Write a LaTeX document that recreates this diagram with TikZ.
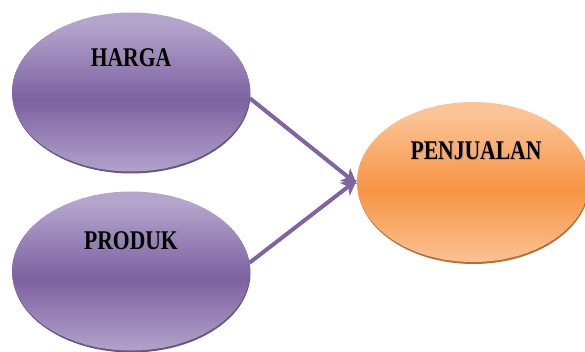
\documentclass[tikz,border=0pt]{standalone}
\usepackage{fontspec}
\setmainfont{Liberation Serif}
\usetikzlibrary{shapes.geometric,arrows.meta,calc}
\definecolor{purpmid}{HTML}{7D61A1}
\definecolor{purplight}{HTML}{B4A5CC}
\definecolor{purpdark}{HTML}{4A3968}
\definecolor{orgmid}{HTML}{F79443}
\definecolor{orglight}{HTML}{FBC497}
\definecolor{orgdark}{HTML}{A85515}
\definecolor{arrowpurp}{HTML}{8064A2}
\newcommand{\bandfill}[2]{%
  \foreach \k in {0,...,47} {%
    \pgfmathsetmacro\pp{min(100,abs(2*(\k+0.5)/48-1.1)*105)}%
    \fill[#1!\pp!#2] let \p1=(path picture bounding box.north west), \p2=(path picture bounding box.south east) in
      (\x1-1pt, {\y1+(\y2-\y1)*\k/48}) rectangle (\x2+1pt, {\y1+(\y2-\y1)*(\k+1.3)/48});
  }%
}
\tikzset{
  blob/.style={shape=ellipse, inner sep=0pt, minimum width=238pt, minimum height=159pt},
  purpblob/.style={blob, path picture={\bandfill{purplight}{purpmid}}},
  purpshadow/.style={blob, fill=purpdark, opacity=0.85},
  orgsize/.style={blob, minimum width=232pt, minimum height=160pt},
  orgblob/.style={orgsize, path picture={\bandfill{orglight}{orgmid}}},
  orgshadow/.style={orgsize, fill=orgdark, opacity=0.85},
  lbl/.style={font=\bfseries\fontsize{27}{27}\selectfont, xscale=0.8, inner sep=0pt, text=black},
  lblshadow/.style={lbl, text=black!45, opacity=0.6},
  link/.style={draw=arrowpurp, line width=4pt, -{Stealth[length=15pt,width=16pt,inset=4pt]}}
}
\begin{document}
\begin{tikzpicture}[x=1pt,y=-1pt]
\useasboundingbox (0,0) rectangle (585,352);
\node[purpshadow] (hargashadow) at (131.5,94) {};
\node[purpblob] (harga) at (131,92) {};
\node[purpshadow] (produkshadow) at (131.5,273) {};
\node[purpblob] (produk) at (131,271) {};
\node[orgshadow] (penjualanshadow) at (473.5,184) {};
\node[orgblob] (penjualan) at (473,182) {};
\coordinate (tip) at (penjualan.west);
\draw[link] (harga.-3) -- ([yshift=-2pt]tip);
\draw[link] (produk.4) -- ([yshift=2pt]tip);
\node[lblshadow] (hargash) at (131.8,58.8) {HARGA};
\node[lbl] (hargatxt) at (131,58) {HARGA};
\node[lblshadow] (produksh) at (131.8,241.8) {PRODUK};
\node[lbl] (produktxt) at (131,241) {PRODUK};
\node[lblshadow] (penjsh) at (476.8,151.8) {PENJUALAN};
\node[lbl] (penjtxt) at (476,151) {PENJUALAN};
\end{tikzpicture}
\end{document}
